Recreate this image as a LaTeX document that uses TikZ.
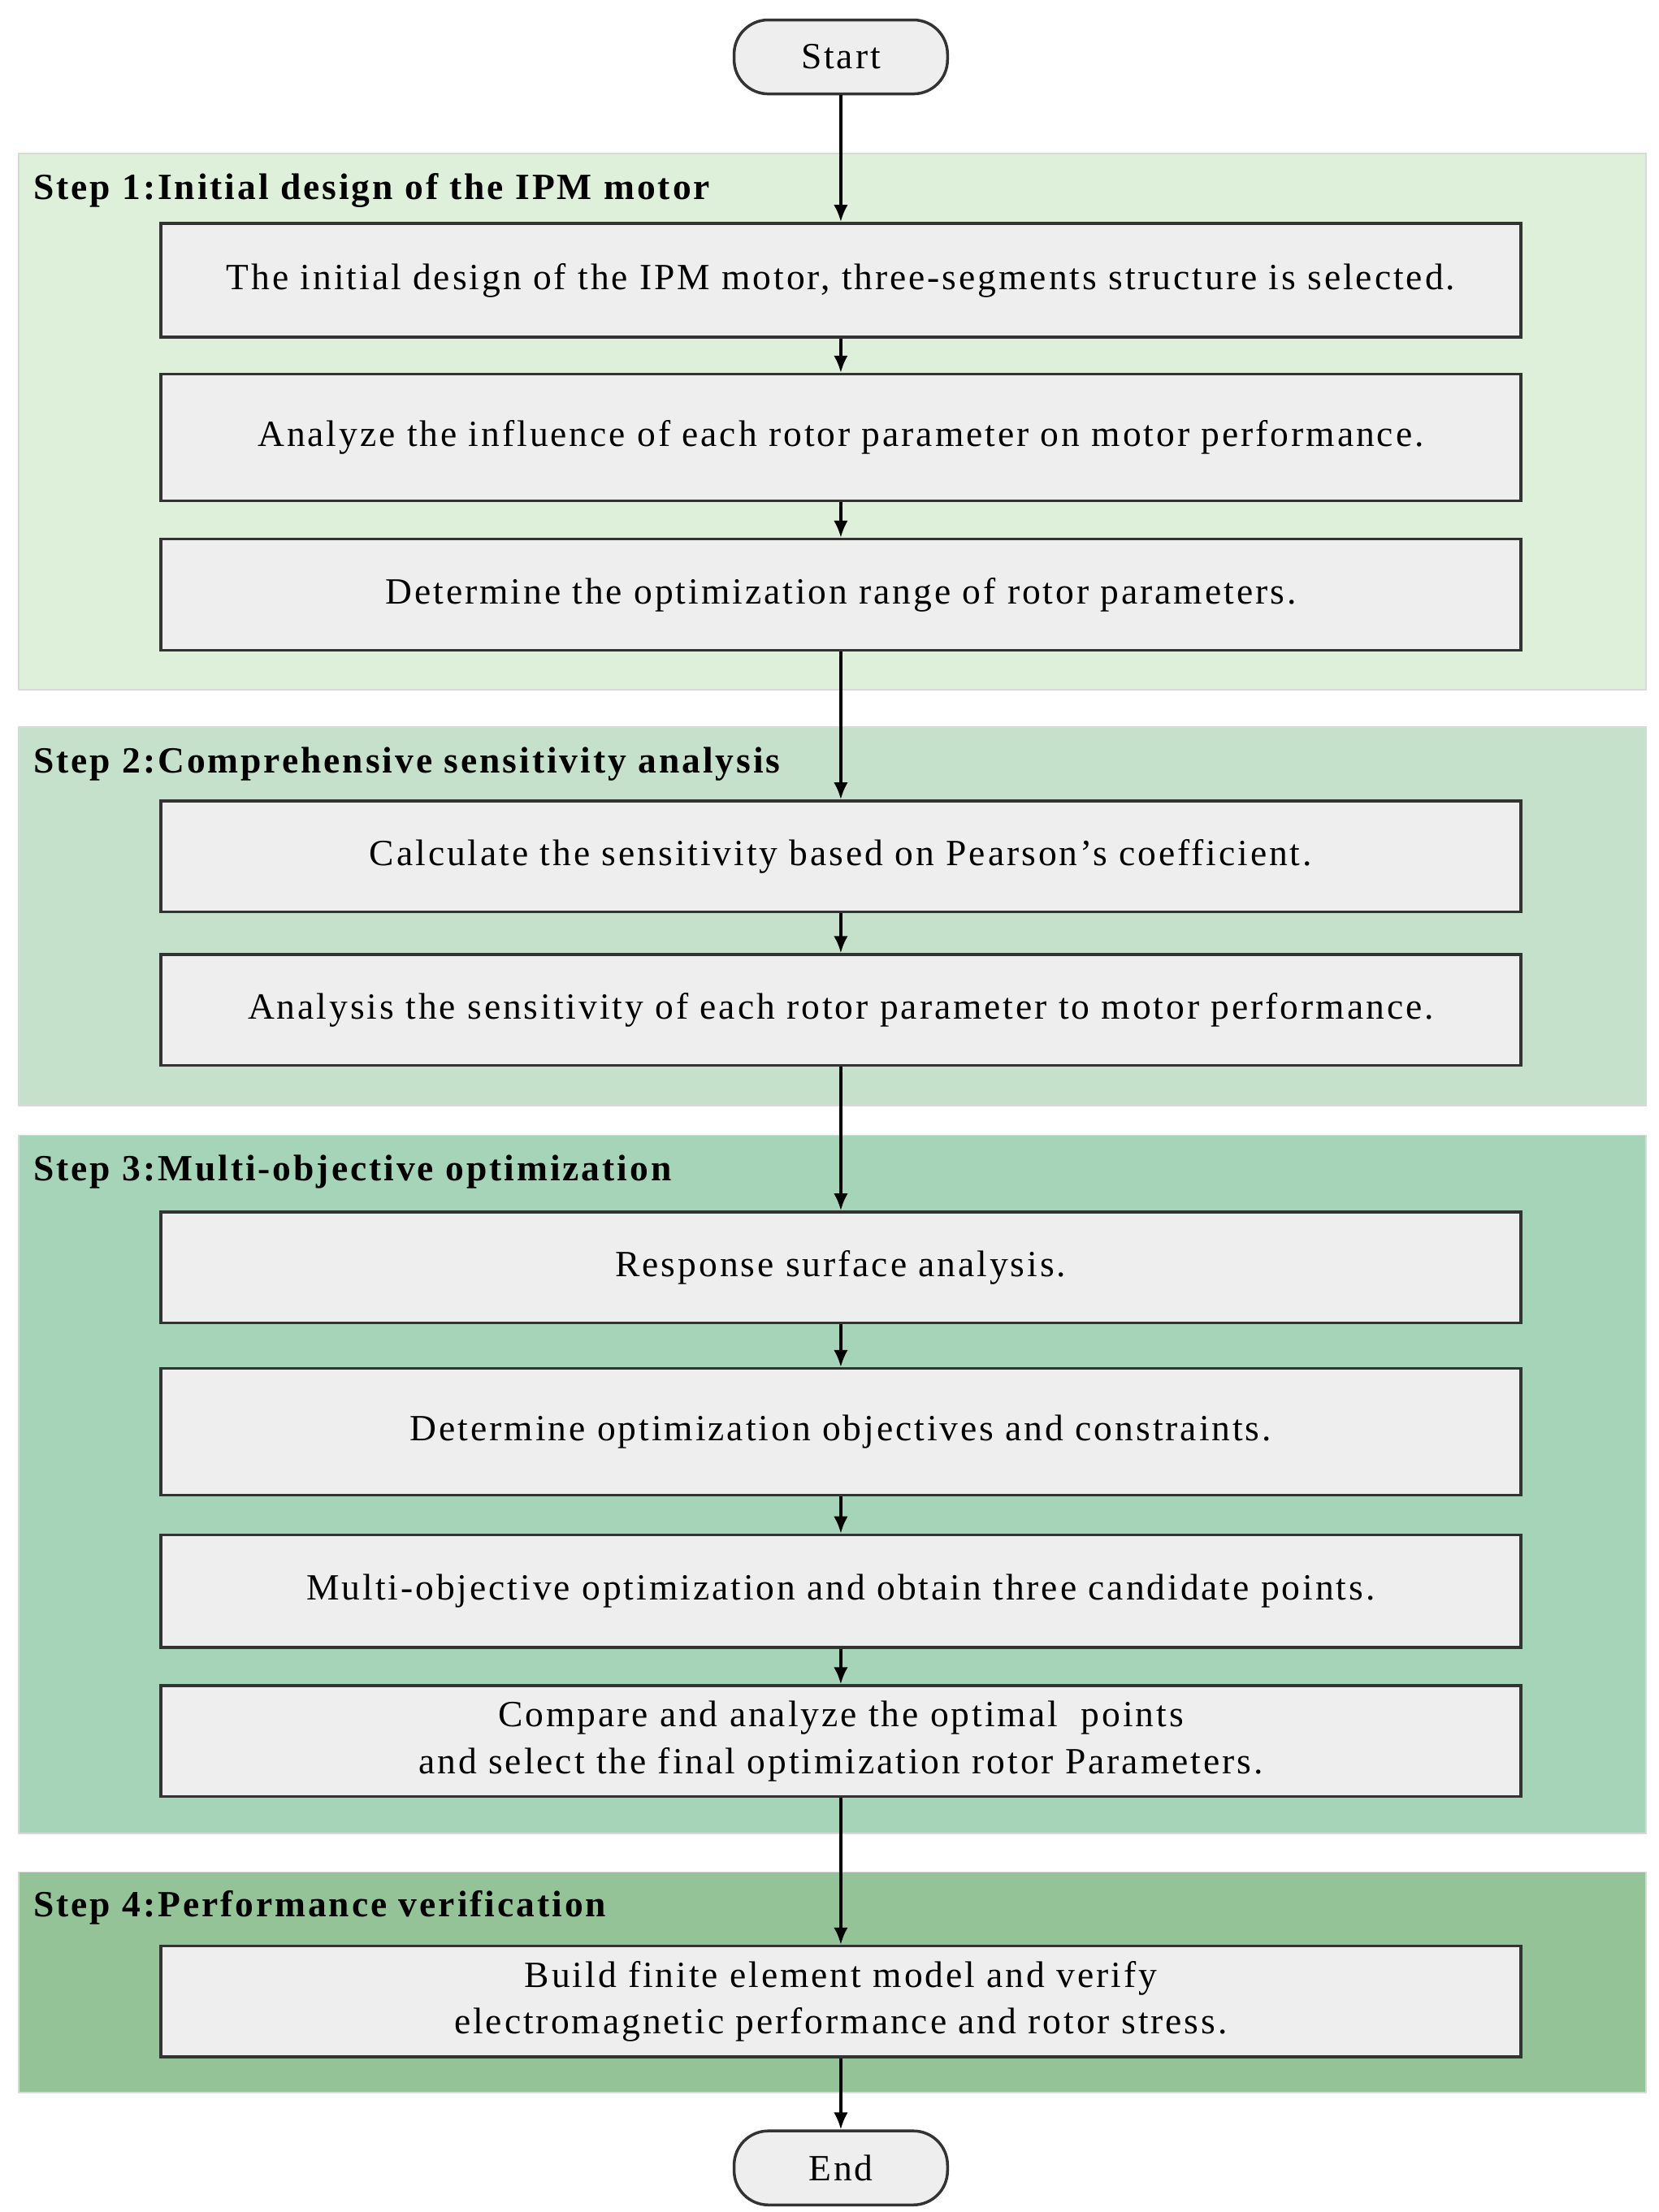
\documentclass[tikz,border=0pt]{standalone}
\usepackage{fontspec}
\setmainfont{Liberation Serif}[LetterSpace=6.5]
\usetikzlibrary{arrows.meta}
\definecolor{bgA}{HTML}{DFF0DA}
\definecolor{bgB}{HTML}{C5E1CB}
\definecolor{bgC}{HTML}{A5D4B8}
\definecolor{bgD}{HTML}{93C396}
\definecolor{boxf}{HTML}{EEEEEE}
\definecolor{edge}{HTML}{333333}
\begin{document}
\begin{tikzpicture}[x=1pt,y=-1pt,
  box/.style={draw=edge,line width=2pt,fill=boxf,minimum width=956pt,align=center,font=\fontsize{26}{33}\selectfont,inner sep=0pt},
  term/.style={draw=edge,line width=2pt,fill=boxf,rounded corners=24pt,minimum width=150pt,minimum height=52pt,font=\fontsize{26}{28}\selectfont},
  band/.style={draw=black!15,line width=1pt},
  title/.style={anchor=west,font=\bfseries\fontsize{26}{28}\selectfont},
  arr/.style={-{Latex[length=12pt,width=10pt]},line width=2pt,black}]
\useasboundingbox (0,0) rectangle (1166,1555);
\fill[white] (0,0) rectangle (1166,1555);
\draw[band,fill=bgA] (13,108) rectangle (1157,485);
\draw[band,fill=bgB] (13,511) rectangle (1157,777);
\draw[band,fill=bgC] (13,798) rectangle (1157,1289);
\draw[band,fill=bgD] (13,1316) rectangle (1157,1471);
\node[title] (t1) at (20,134) {Step 1:Initial design of the IPM motor};
\node[title] (t2) at (20,537) {Step 2:Comprehensive sensitivity analysis};
\node[title] (t3) at (20,824) {Step 3:Multi-objective optimization};
\node[title] (t4) at (20,1341) {Step 4:Performance verification};
\node[term] (s) at (591,40) {Start};
\node[box,minimum height=80pt] (b1) at (591,197) {The initial design of the IPM motor, three-segments structure is selected.};
\node[box,minimum height=89pt] (b2) at (591,307.5) {Analyze the influence of each rotor parameter on motor performance.};
\node[box,minimum height=78pt] (b3) at (591,418) {Determine the optimization range of rotor parameters.};
\node[box,minimum height=78pt] (b4) at (591,602) {Calculate the sensitivity based on Pearson's coefficient.};
\node[box,minimum height=78pt] (b5) at (591,710) {Analysis the sensitivity of each rotor parameter to motor performance.};
\node[box,minimum height=78pt] (b6) at (591,891) {Response surface analysis.};
\node[box,minimum height=89pt] (b7) at (591,1006.5) {Determine optimization objectives and constraints.};
\node[box,minimum height=79pt] (b8) at (591,1118.5) {Multi-objective optimization and obtain three candidate points.};
\node[box,minimum height=78pt] (b9) at (591,1224) {Compare and analyze the optimal\ \ points\\and select the final optimization rotor Parameters.};
\node[box,minimum height=78pt] (b10) at (591,1407) {Build finite element model and verify\\electromagnetic performance and rotor stress.};
\node[term] (e) at (591,1524) {End};
\foreach \a/\b in {s/b1,b1/b2,b2/b3,b3/b4,b4/b5,b5/b6,b6/b7,b7/b8,b8/b9,b9/b10,b10/e}
  \draw[arr] (\a.south) -- (\b.north);
\end{tikzpicture}
\end{document}
